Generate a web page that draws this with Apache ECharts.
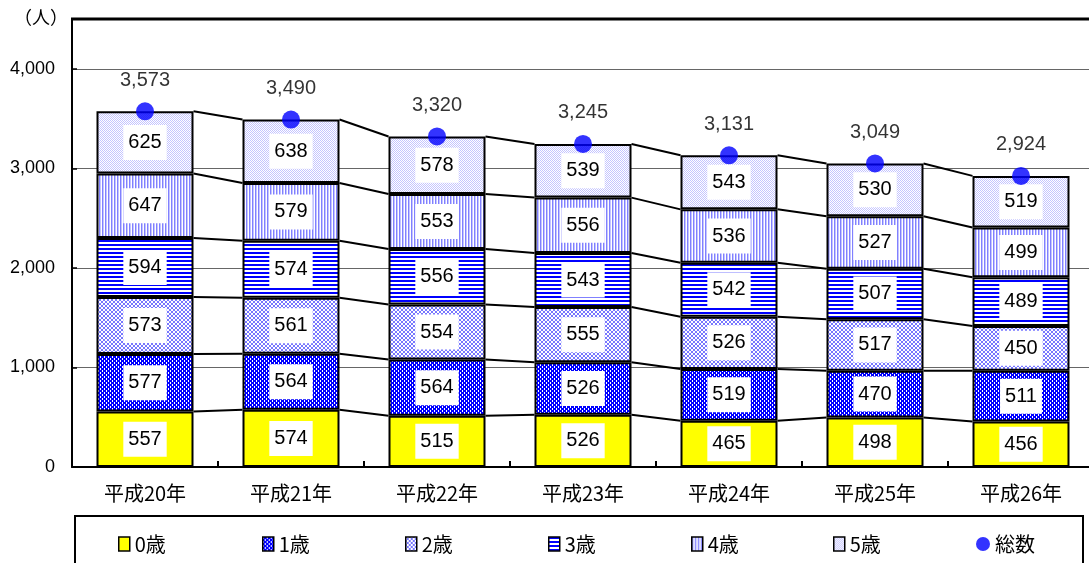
<!DOCTYPE html>
<html>
<head>
<meta charset="utf-8">
<script src="https://cdn.jsdelivr.net/npm/echarts@6/dist/echarts.min.js"></script>
<style>
html,body{margin:0;padding:0;background:#fff;overflow:hidden;}
#c{width:1110px;height:563px;}
</style>
</head>
<body>
<div id="c"></div>
<script>
// ---- data ----
const categories = ['平成20年','平成21年','平成22年','平成23年','平成24年','平成25年','平成26年'];
const age0 = [557, 574, 515, 526, 465, 498, 456];
const age1 = [577, 564, 564, 526, 519, 470, 511];
const age2 = [573, 561, 554, 555, 526, 517, 450];
const age3 = [594, 574, 556, 543, 542, 507, 489];
const age4 = [647, 579, 553, 556, 536, 527, 499];
const age5 = [625, 638, 578, 539, 543, 530, 519];
const totals = [3573, 3490, 3320, 3245, 3131, 3049, 2924];
const seriesNames = ['0歳','1歳','2歳','3歳','4歳','5歳','総数'];
const yTickValues = [0, 1000, 2000, 3000, 4000];
const unitLabel = '（人）';

// ---- patterns ----
function pat(w, h, draw) {
  const c = document.createElement('canvas');
  c.width = w; c.height = h;
  const g = c.getContext('2d');
  draw(g);
  return { image: c, repeat: 'repeat' };
}
const P0 = '#FFFF00';
const P1 = pat(4, 4, g => {
  g.fillStyle = '#0000FF'; g.fillRect(0, 0, 4, 4);
  g.fillStyle = '#FFFFFF';
  g.fillRect(0, 0, 1, 2); g.fillRect(2, 2, 1, 2);
});
const P2 = pat(4, 4, g => {
  g.fillStyle = '#FFFFFF'; g.fillRect(0, 0, 4, 4);
  g.fillStyle = '#7777FF';
  for (let i = 0; i < 4; i++) { g.fillRect(i, i, 1, 1); g.fillRect(3 - i, i, 1, 1); }
});
const P3 = pat(4, 4, g => {
  g.fillStyle = '#FFFFFF'; g.fillRect(0, 0, 4, 4);
  g.fillStyle = '#0000FF'; g.fillRect(0, 0, 4, 2);
});
const P4 = pat(3, 1, g => {
  g.fillStyle = '#8080FF'; g.fillRect(0, 0, 1, 1);
  g.fillStyle = '#C4C4FF'; g.fillRect(1, 0, 1, 1);
  g.fillStyle = '#FFFFFF'; g.fillRect(2, 0, 1, 1);
});
const P5 = pat(2, 2, g => {
  g.fillStyle = '#FFFFFF'; g.fillRect(0, 0, 2, 2);
  g.fillStyle = '#C4C4FF'; g.fillRect(0, 0, 1, 1); g.fillRect(1, 1, 1, 1);
});
const fills = [P0, P1, P2, P3, P4, P5];
const stacks = [age0, age1, age2, age3, age4, age5];

// cumulative levels
const cum = [];
stacks.forEach((arr, k) => {
  cum.push(arr.map((v, i) => v + (k > 0 ? cum[k - 1][i] : 0)));
});

const BAR_W = 97;
const NUM_FONT = 'Liberation Sans, Arial, sans-serif';
const JP_FONT = '"Noto Sans CJK JP", sans-serif';

const chart = echarts.init(document.getElementById('c'), null, { renderer: 'canvas' });

const series = stacks.map((arr, k) => ({
  name: seriesNames[k],
  type: 'bar',
  stack: 'all',
  barWidth: BAR_W,
  data: arr,
  itemStyle: { color: fills[k], borderColor: '#000', borderWidth: 2 },
  label: {
    show: true, position: 'inside', color: '#000',
    fontFamily: NUM_FONT, fontSize: 20,
    backgroundColor: '#fff', padding: [8, 5, 7, 5]
  },
  emphasis: { disabled: true }
}));

series.push({
  name: 'lines', type: 'custom', coordinateSystem: 'cartesian2d',
  data: categories.map((c, i) => [i, 0]),
  encode: { x: 0, y: 1 },
  clip: false, z: 1, silent: true,
  renderItem: function (params, api) {
    const i = params.dataIndex;
    if (i >= categories.length - 1) return { type: 'group', children: [] };
    const half = BAR_W / 2;
    const children = [];
    for (let k = 0; k < cum.length; k++) {
      const a = api.coord([i, cum[k][i]]);
      const b = api.coord([i + 1, cum[k][i + 1]]);
      children.push({
        type: 'line',
        shape: { x1: a[0] + half, y1: a[1], x2: b[0] - half, y2: b[1] },
        style: { stroke: '#000', lineWidth: 2 }
      });
    }
    return { type: 'group', children: children };
  }
});

series.push({
  name: '総数', type: 'scatter',
  data: totals, symbol: 'circle', symbolSize: 18,
  itemStyle: { color: '#0000FF' }, z: 5,
  label: {
    show: true, position: 'top', distance: 12, color: '#000',
    fontFamily: NUM_FONT, fontSize: 20,
    formatter: p => p.value.toLocaleString('en-US')
  },
  emphasis: { disabled: true }
});

const legendLefts = [113, 257, 400, 543, 686, 828, 971];
const legends = seriesNames.map((n, k) => ({
  data: [n], left: legendLefts[k], top: 529,
  itemWidth: k === 6 ? 14 : 11, itemHeight: 14, itemGap: 0,
  textStyle: { fontFamily: JP_FONT, fontSize: 20, color: '#000', padding: [0, 0, 0, 0] },
  itemStyle: k === 6 ? {} : { borderColor: '#000', borderWidth: 1.5 },
  icon: k === 6 ? 'circle' : 'rect',
  selectedMode: false
}));

chart.setOption({
  animation: false,
  backgroundColor: '#fff',
  grid: { left: 72, top: 19, width: 1022, height: 448, containLabel: false },
  legend: legends,
  xAxis: {
    type: 'category', data: categories,
    axisLine: { lineStyle: { color: '#000', width: 2 } },
    axisTick: { show: true, inside: true, length: 6, lineStyle: { color: '#000', width: 2 } },
    axisLabel: { color: '#000', fontFamily: JP_FONT, fontSize: 20, margin: 16 }
  },
  yAxis: {
    type: 'value', min: 0, max: 4500, interval: 1000,
    axisLine: { show: true, lineStyle: { color: '#000', width: 2 } },
    axisTick: { show: true, inside: true, length: 5, lineStyle: { color: '#000', width: 1.5 } },
    axisLabel: {
      color: '#000', fontFamily: NUM_FONT, fontSize: 18, margin: 17,
      formatter: v => (yTickValues.indexOf(v) >= 0 ? v.toLocaleString('en-US') : '')
    },
    splitLine: { show: true, lineStyle: { color: '#666', width: 1 } }
  },
  graphic: [
    { type: 'line', shape: { x1: 71, y1: 19, x2: 1110, y2: 19 }, style: { stroke: '#000', lineWidth: 3 }, z: 10 },
    { type: 'rect', shape: { x: 75, y: 516, width: 1008, height: 70 }, style: { fill: 'none', stroke: '#000', lineWidth: 2 }, z: -1 },
    { type: 'text', left: 14, top: 8, style: { text: unitLabel, font: '18px "Noto Sans CJK JP"', fill: '#000' } }
  ],
  series: series
});
</script>
</body>
</html>
